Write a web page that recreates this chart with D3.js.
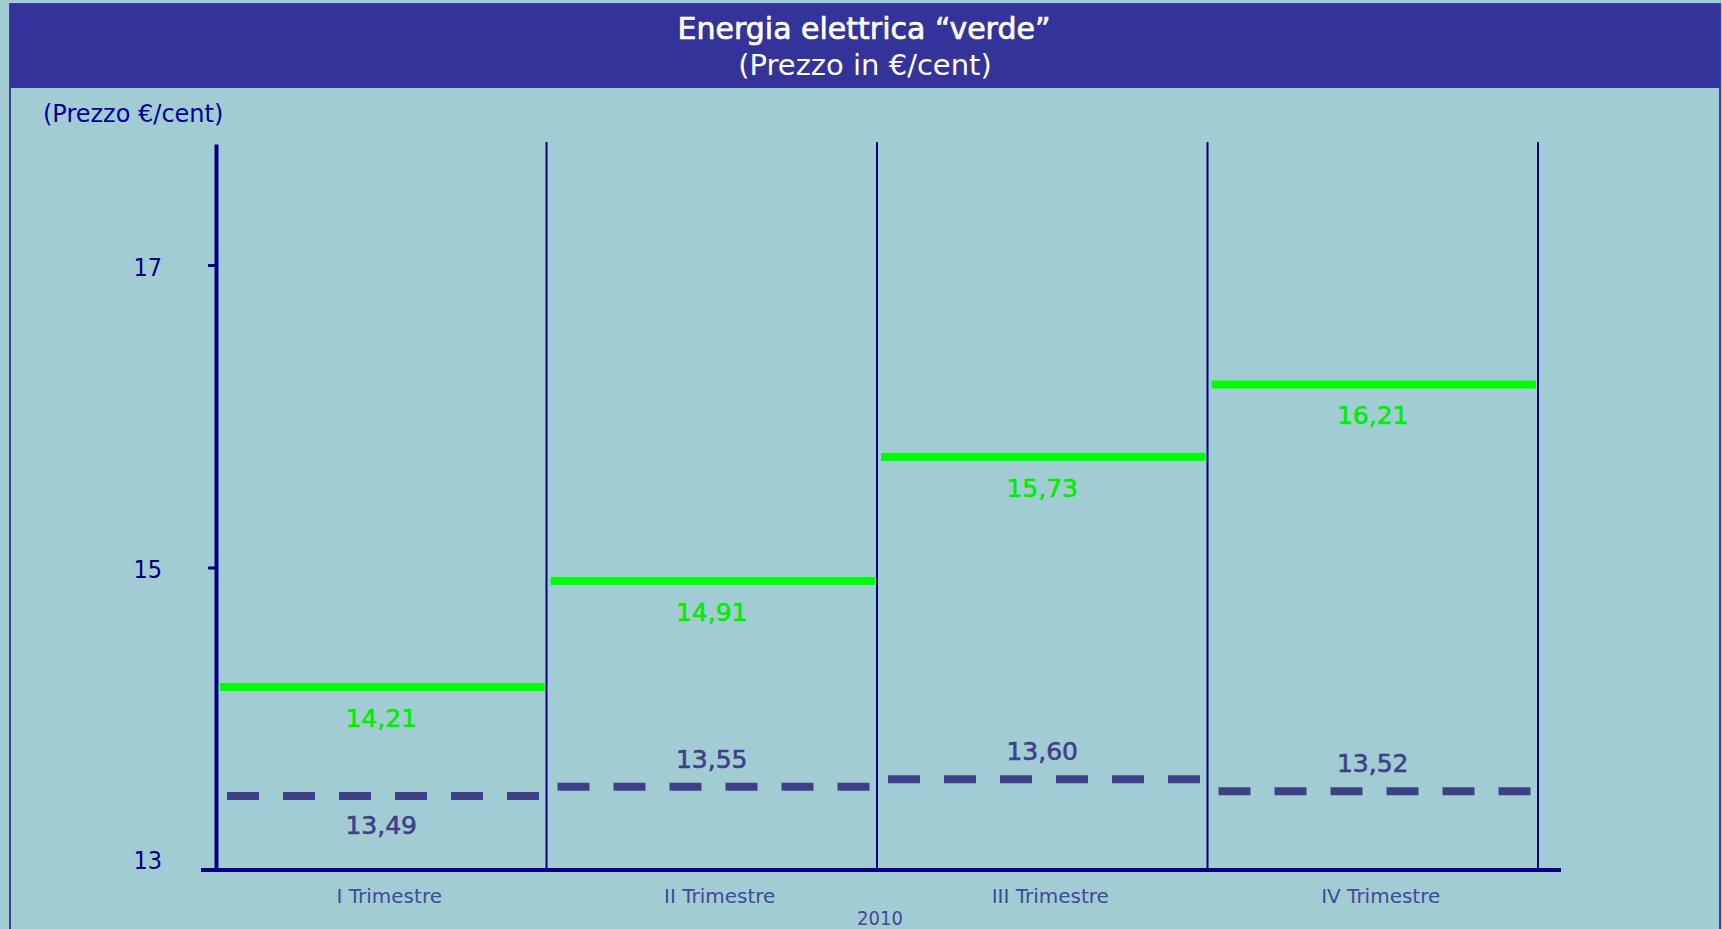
<!DOCTYPE html>
<html><head><meta charset="utf-8">
<script src="https://cdn.jsdelivr.net/npm/d3@7"></script>
<style>
html,body{margin:0;padding:0;background:#a2ccd3;overflow:hidden;}
svg{display:block;}
text{font-family:"DejaVu Sans",sans-serif;}
text.cond{font-family:"DejaVu Sans Condensed","DejaVu Sans",sans-serif;font-stretch:condensed;}
</style></head><body>
<svg id="chart" width="1722" height="929"></svg>
<script>
// ---- data ----
const quarters = ["I Trimestre", "II Trimestre", "III Trimestre", "IV Trimestre"];
const greenPrices = [14.21, 14.91, 15.73, 16.21];
const refPrices = [13.49, 13.55, 13.60, 13.52];
const refLabelSide = ["below", "above", "above", "above"];
const yTicks = [13, 15, 17];
const titleLines = ["Energia elettrica “verde”", "(Prezzo in €/cent)"];
const yTitle = "(Prezzo €/cent)";
const yearLabel = "2010";

const fmt = v => d3.format(".2f")(v).replace(".", ",");

const svg = d3.select("#chart");
const W = 1722, H = 929;
const navy = "#000080";
const refColor = "#404088";
const green = "#00ff00";

// frame + title bar
svg.append("rect").attr("x", 0).attr("y", 0).attr("width", W).attr("height", H).attr("fill", "#a2ccd3");
svg.append("rect").attr("x", 10).attr("y", 4).attr("width", 1710).attr("height", 940)
  .attr("fill", "none").attr("stroke", "#3f3f9f").attr("stroke-width", 2);
svg.append("rect").attr("x", 10).attr("y", 4).attr("width", 1710).attr("height", 84).attr("fill", "#333399");
svg.append("text").attr("x", 864).attr("y", 39).attr("text-anchor", "middle")
  .attr("fill", "#ffffff").attr("stroke", "#ffffff").attr("stroke-width", 0.7)
  .attr("font-size", 30).text(titleLines[0]);
svg.append("text").attr("x", 865).attr("y", 75).attr("text-anchor", "middle")
  .attr("fill", "#ffffff").attr("font-size", 29).text(titleLines[1]);

// scales
const x = d3.scaleBand().domain(quarters).range([216, 1538]).padding(0);
const y = d3.scaleLinear().domain([13, 17.8]).range([870, 144]);
const bw = x.bandwidth();

// y title
svg.append("text").attr("x", 43).attr("y", 122).attr("fill", "#000099")
  .attr("font-size", 24).text(yTitle);

// separators
svg.append("g").selectAll("line").data(quarters).join("line")
  .attr("x1", d => x(d) + bw).attr("x2", d => x(d) + bw)
  .attr("y1", 142).attr("y2", y(13))
  .attr("stroke", navy).attr("stroke-width", 2);

// y axis
const yAxis = svg.append("g").attr("transform", "translate(216,0)")
  .call(d3.axisLeft(y).tickValues(yTicks).tickSize(8).tickSizeOuter(0).tickPadding(46).tickFormat(d3.format("d")));
yAxis.select(".domain").attr("stroke", navy).attr("stroke-width", 4);
yAxis.selectAll(".tick line").attr("stroke", navy).attr("stroke-width", 3);
yAxis.selectAll(".tick text").attr("class", "cond").attr("fill", navy).attr("font-size", 25)
  .attr("font-family", null).attr("dy", d => d === 13 ? "-0.05em" : "0.4em");

// x axis
svg.append("line").attr("x1", 201).attr("x2", 1561).attr("y1", y(13)).attr("y2", y(13))
  .attr("stroke", navy).attr("stroke-width", 4);
svg.append("g").selectAll("text").data(quarters).join("text")
  .attr("x", d => x(d) + bw / 2 + 8).attr("y", 903).attr("text-anchor", "middle")
  .attr("fill", "#404a99").attr("font-size", 20).text(d => d);
svg.append("text").attr("class", "cond").attr("x", (x.range()[0] + x.range()[1]) / 2 + 3).attr("y", 925)
  .attr("text-anchor", "middle").attr("fill", "#404a99").attr("font-size", 20).text(yearLabel);

// green series
const gG = svg.append("g");
gG.selectAll("line").data(quarters).join("line")
  .attr("x1", d => x(d) + 4).attr("x2", d => x(d) + bw - 2)
  .attr("y1", (d, i) => y(greenPrices[i])).attr("y2", (d, i) => y(greenPrices[i]))
  .attr("stroke", green).attr("stroke-width", 8);
gG.selectAll("text").data(quarters).join("text")
  .attr("x", d => x(d) + bw / 2).attr("y", (d, i) => y(greenPrices[i]) + 40)
  .attr("text-anchor", "middle").attr("fill", "#00ee00")
  .attr("stroke", "#00ee00").attr("stroke-width", 0.6).attr("font-size", 25)
  .text((d, i) => fmt(greenPrices[i]));

// reference (dashed) series
const rG = svg.append("g");
rG.selectAll("line").data(quarters).join("line")
  .attr("x1", d => x(d) + 11).attr("x2", d => x(d) + bw - 6)
  .attr("y1", (d, i) => y(refPrices[i])).attr("y2", (d, i) => y(refPrices[i]))
  .attr("stroke", refColor).attr("stroke-width", 8).attr("stroke-dasharray", "32 24");
rG.selectAll("text").data(quarters).join("text")
  .attr("x", d => x(d) + bw / 2).attr("y", (d, i) => y(refPrices[i]) + (refLabelSide[i] === "below" ? 38 : -19))
  .attr("text-anchor", "middle").attr("fill", refColor)
  .attr("stroke", refColor).attr("stroke-width", 0.6).attr("font-size", 25)
  .text((d, i) => fmt(refPrices[i]));
</script>
</body></html>
